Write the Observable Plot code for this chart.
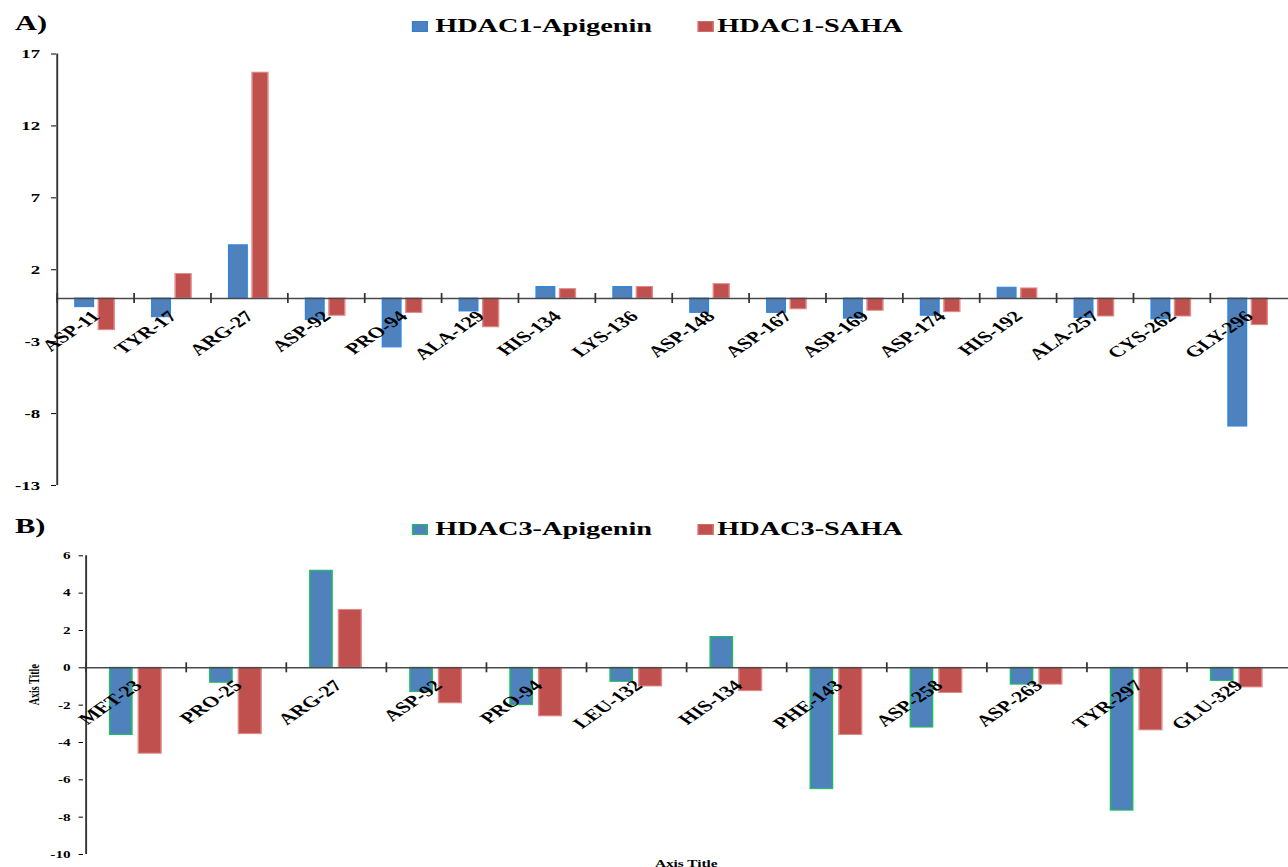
<!DOCTYPE html>
<html>
<head>
<meta charset="utf-8">
<script src="https://cdn.jsdelivr.net/npm/d3@7"></script>
<script src="https://cdn.jsdelivr.net/npm/@observablehq/plot@0.6"></script>
<style>
  html, body { margin: 0; padding: 0; background: #fff; }
  body { width: 1288px; height: 867px; overflow: hidden; position: relative; }
  #stage { position: absolute; left: 0; top: 0; width: 888px; height: 867px; transform-origin: 0 0; }
  .lbl { position: absolute; font-family: 'Liberation Serif', 'Times New Roman', serif; font-weight: bold; color: #000; white-space: nowrap; }
  .sq { position: absolute; width: 11px; height: 11px; box-sizing: border-box; }
  .plot { position: absolute; left: 0; }
</style>
</head>
<body>
<div id="stage"></div>
<script>
// ---------- data ----------
const residuesHDAC1 = ["ASP-11","TYR-17","ARG-27","ASP-92","PRO-94","ALA-129","HIS-134","LYS-136","ASP-148","ASP-167","ASP-169","ASP-174","HIS-192","ALA-257","CYS-262","GLY-296"];
const hdac1Apigenin = [-0.6, -1.3, 3.7, -1.5, -3.4, -0.9, 0.8, 0.8, -1.0, -1.0, -1.4, -1.2, 0.75, -1.35, -1.45, -8.9];
const hdac1Saha     = [-2.2, 1.7, 15.7, -1.2, -1.0, -2.0, 0.65, 0.8, 1.0, -0.75, -0.85, -0.95, 0.7, -1.25, -1.25, -1.85];
const ticksHDAC1 = [-13, -8, -3, 2, 7, 12, 17];

const residuesHDAC3 = ["MET-23","PRO-25","ARG-27","ASP-92","PRO-94","LEU-132","HIS-134","PHE-143","ASP-258","ASP-263","TYR-297","GLU-329"];
const hdac3Apigenin = [-3.6, -0.8, 5.2, -1.3, -2.0, -0.75, 1.65, -6.5, -3.2, -0.9, -7.65, -0.7];
const hdac3Saha     = [-4.6, -3.55, 3.1, -1.9, -2.6, -1.0, -1.25, -3.6, -1.35, -0.9, -3.35, -1.05];
const ticksHDAC3 = [-10, -8, -6, -4, -2, 0, 2, 4, 6];

const seriesNames1 = ["HDAC1-Apigenin", "HDAC1-SAHA"];
const seriesNames3 = ["HDAC3-Apigenin", "HDAC3-SAHA"];
const panelTags = ["A)", "B)"];
const axisTitle = "Axis Title";

// ---------- layout ----------
const W = 888;
const S = 1288 / W; // the reference is horizontally stretched
const stage = document.getElementById("stage");
stage.style.transform = `scaleX(${S})`;
const FONT = "'Liberation Serif', 'Times New Roman', serif";
const BLUE = "#4f81bd", RED = "#c0504d";

function addLabel(text, left, top, size) {
  const d = document.createElement("div");
  d.className = "lbl";
  d.textContent = text;
  d.style.left = left + "px";
  d.style.top = top + "px";
  d.style.fontSize = size + "px";
  d.style.lineHeight = size + "px";
  stage.appendChild(d);
}
function addSquare(left, top, fill, stroke) {
  const d = document.createElement("div");
  d.className = "sq";
  d.style.left = left + "px";
  d.style.top = top + "px";
  d.style.background = fill;
  d.style.border = `1px solid ${stroke}`;
  stage.appendChild(d);
}

function panel({cats, a, b, domain, ticks, top, height, mt, mb, ml, tickFont, tickSize, tickPadding,
                blueIn, redIn, blueStroke, redStroke, labelFont, labelDx, labelDy, extra = []}) {
  const rows = cats.map((c, i) => ({cat: c, a: a[i], b: b[i]}));
  const step = (W - ml) / cats.length;
  const innerH = height - mt - mb;
  const zeroPx = mt + innerH * (domain[1] / (domain[1] - domain[0]));
  const chart = Plot.plot({
    width: W, height,
    marginLeft: ml, marginRight: 0, marginTop: mt, marginBottom: mb,
    style: {fontFamily: FONT, fontSize: tickFont + "px", fontWeight: "bold", color: "#000", background: "transparent", overflow: "visible"},
    x: {domain: cats, padding: 0, axis: null},
    y: {domain, ticks, tickSize, tickPadding, tickFormat: d => String(d), label: null},
    marks: [
      Plot.barY(rows, {x: "cat", y: "a", fill: BLUE, stroke: blueStroke, strokeWidth: 1,
        insetLeft: step * blueIn[0], insetRight: step * (1 - blueIn[1])}),
      Plot.barY(rows, {x: "cat", y: "b", fill: RED, stroke: redStroke, strokeWidth: 1,
        insetLeft: step * redIn[0], insetRight: step * (1 - redIn[1])}),
      Plot.ruleY([0], {stroke: "#4a4a4a", strokeWidth: 1.4}),
      Plot.ruleX(cats, {x: d => d, dx: -step / 2, stroke: "#333", strokeWidth: 1.2,
        insetTop: zeroPx - mt - 5, insetBottom: height - mb - zeroPx - 5}),
      Plot.ruleX([cats[0]], {x: d => d, dx: -step / 2, stroke: "#333", strokeWidth: 1.3}),
      Plot.text(rows, {x: "cat", y: () => 0, text: "cat", rotate: -45, textAnchor: "end", lineAnchor: "top",
        dx: labelDx, dy: labelDy, fontSize: labelFont, fontWeight: "bold", fill: "#000"}),
      ...extra
    ]
  });
  chart.classList.add("plot");
  chart.style.top = top + "px";
  stage.appendChild(chart);
}

// ---------- panel A ----------
addLabel(panelTags[0], 10.3, 13.4, 21);
addSquare(284, 21, BLUE, "#2f7fd8");
addLabel(seriesNames1[0], 300, 15.8, 19.5);
addSquare(480.5, 21, RED, "#d46a67");
addLabel(seriesNames1[1], 494.5, 15.8, 19.5);

panel({
  cats: residuesHDAC1, a: hdac1Apigenin, b: hdac1Saha,
  domain: [-13, 17], ticks: ticksHDAC1,
  top: 0, height: 500, mt: 53.5, mb: 15, ml: 38.6,
  tickFont: 13, tickSize: 3.4, tickPadding: 8,
  blueIn: [0.238, 0.48], redIn: [0.542, 0.75],
  blueStroke: "#2f86e0", redStroke: "#e08a88",
  labelFont: 15.5, labelDx: -4, labelDy: 11
});

// ---------- panel B ----------
addLabel(panelTags[1], 10.3, 516.4, 21);
addSquare(284, 524, BLUE, "#1fbf5a");
addLabel(seriesNames3[0], 300, 518.6, 19.5);
addSquare(480.5, 524, RED, "#d46a67");
addLabel(seriesNames3[1], 494.5, 518.6, 19.5);

panel({
  cats: residuesHDAC3, a: hdac3Apigenin, b: hdac3Saha,
  domain: [-10, 6], ticks: ticksHDAC3,
  top: 500, height: 367, mt: 55.3, mb: 13, ml: 57.2,
  tickFont: 10.5, tickSize: 3, tickPadding: 6,
  blueIn: [0.24, 0.465], redIn: [0.525, 0.755],
  blueStroke: "#19c05a", redStroke: "#e08a88",
  labelFont: 15.5, labelDx: -3, labelDy: 11,
  extra: [
    Plot.text([axisTitle], {frameAnchor: "left", text: d => d, rotate: -90, dx: -33.7, fontSize: 10, fontWeight: "bold", fill: "#000"}),
    Plot.text([axisTitle], {frameAnchor: "bottom", text: d => d, lineAnchor: "bottom", dy: 12, fontSize: 10.5, fontWeight: "bold", fill: "#000"})
  ]
});
</script>
</body>
</html>
